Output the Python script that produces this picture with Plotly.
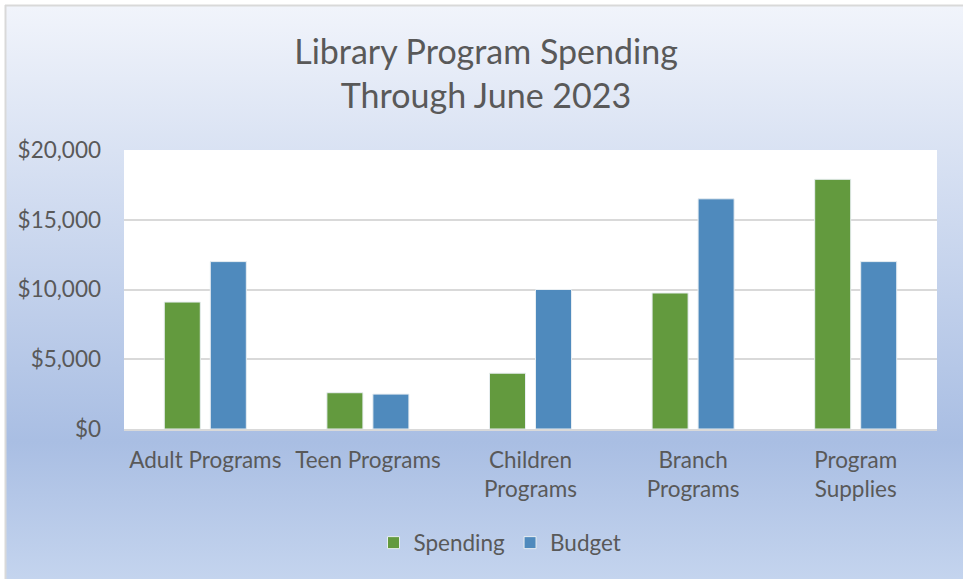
import base64
import plotly.graph_objects as go

categories = ["Adult Programs", "Teen Programs", "Children<br>Programs", "Branch<br>Programs", "Program<br>Supplies"]
spending = [9100, 2600, 4000, 9750, 17900]
budget = [12000, 2500, 10000, 16500, 12000]
y_ticks = [0, 5000, 10000, 15000, 20000]
y_tick_text = ["$0", "$5,000", "$10,000", "$15,000", "$20,000"]

W, H = 963, 579
FONT = "Lato"
TXT = "#595959"
AX = 22.5

svg = """<svg xmlns='http://www.w3.org/2000/svg' width='100' height='100' preserveAspectRatio='none'>
<defs><linearGradient id='g' x1='0' y1='0' x2='0' y2='1'>
<stop offset='0' stop-color='#f1f4fb'/>
<stop offset='0.76' stop-color='#a9bee3'/>
<stop offset='1' stop-color='#c4d4ee'/>
</linearGradient></defs>
<rect width='100' height='100' fill='url(#g)'/></svg>"""
src = "data:image/svg+xml;base64," + base64.b64encode(svg.encode()).decode()

fig = go.Figure()
fig.add_bar(x=categories, y=spending, name="Spending",
            marker=dict(color="#639a3e", line=dict(color="#e8eef2", width=1)))
fig.add_bar(x=categories, y=budget, name="Budget",
            marker=dict(color="#4f8abd", line=dict(color="#e8eef2", width=1)))

x0, x1 = 124 / W, 937 / W
ytop, ybot = 1 - 150 / H, 1 - 429 / H

fig.update_layout(
    width=W, height=H,
    margin=dict(l=0, r=0, t=0, b=0, autoexpand=False),
    paper_bgcolor="white",
    plot_bgcolor="white",
    font=dict(family=FONT, color=TXT, size=AX),
    title=dict(text="Library Program Spending<br>Through June 2023",
               x=486 / W, xanchor="center", y=1 - 64 / H, yanchor="middle",
               font=dict(family=FONT, size=34, color=TXT)),
    barmode="group",
    bargap=0.434,
    bargroupgap=0.217,
    xaxis=dict(domain=[x0, x1], showgrid=False, showline=True, linecolor="#d9d9d9",
               linewidth=2, ticks="", tickfont=dict(size=AX, color=TXT),
               automargin=False, ticklabelstandoff=10),
    yaxis=dict(domain=[ybot, ytop], range=[0, 20000], tickvals=y_ticks, ticktext=y_tick_text,
               showgrid=True, gridcolor="#d9d9d9",
               gridwidth=2, zeroline=False, ticks="", ticklabelstandoff=22,
               tickfont=dict(size=AX, color=TXT), automargin=False),
    legend=dict(orientation="h", x=500 / W, xanchor="center", y=1 - 543 / H, yanchor="middle",
                bgcolor="rgba(0,0,0,0)", font=dict(size=AX, color=TXT),
                traceorder="normal"),
    showlegend=True,
    images=[dict(source=src, xref="paper", yref="paper", x=6 / W, y=1 - 6 / H,
                 sizex=1 - 6 / W, sizey=1 - 6 / H, xanchor="left", yanchor="top",
                 sizing="stretch", layer="below")],
    shapes=[
        dict(type="rect", xref="x domain", yref="y domain", x0=0, x1=1, y0=0, y1=1,
             fillcolor="white", line=dict(width=0), layer="below"),
        dict(type="line", xref="paper", yref="paper", x0=5.5 / W, x1=5.5 / W, y0=0, y1=1 - 5 / H,
             line=dict(color="#d9d9d9", width=2), layer="below"),
        dict(type="line", xref="paper", yref="paper", x0=5 / W, x1=1, y0=1 - 5.5 / H, y1=1 - 5.5 / H,
             line=dict(color="#d9d9d9", width=2), layer="below"),
    ],
)

fig.write_html("out.html")
